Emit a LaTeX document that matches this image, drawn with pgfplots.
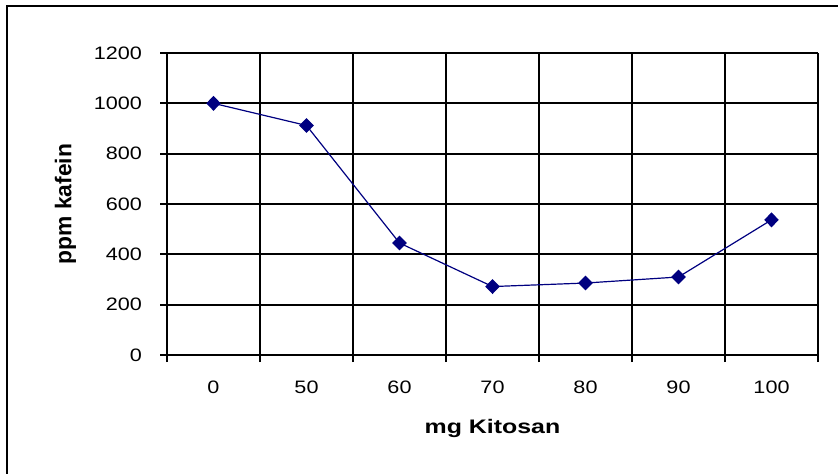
\documentclass[border=0pt]{standalone}
\usepackage{pgfplots}
\pgfplotsset{compat=1.18}
\usepackage{fontspec}
\setmainfont{Liberation Sans}
\newfontfamily\tickfont{Liberation Sans}[FakeStretch=1.2]
\newfontfamily\xlabfont{Liberation Sans}[FakeStretch=1.27]
\definecolor{navy}{RGB}{0,0,128}
\begin{document}
\begin{tikzpicture}
\useasboundingbox (0pt,0pt) rectangle (419pt,236.5pt);
\draw[black,line width=1pt] (3.5pt,-10pt) -- (3.5pt,233.5pt) -- (430pt,233.5pt);
\begin{axis}[
  at={(83.5pt,59pt)}, anchor=south west,
  scale only axis, width=325.5pt, height=151pt,
  xmin=-0.5, xmax=6.5, ymin=0, ymax=1200,
  xtick={0,...,6},
  xticklabels={0,50,60,70,80,90,100},
  minor xtick={-0.5,0.5,...,6.5},
  ytick={0,200,...,1200},
  major x tick style={draw=none},
  tick align=outside,
  minor tick length=3.5pt, major tick length=3.5pt,
  tick style={black, line width=0.9pt},
  xminorgrids=true, ymajorgrids=true,
  grid style={black, line width=0.9pt},
  minor grid style={black, line width=0.9pt},
  axis line style={black, line width=0.9pt},
  separate axis lines,
  axis x line*=bottom, axis y line*=left,
  ticklabel style={font=\tickfont\fontsize{9}{10}\selectfont},
  xticklabel style={yshift=-6pt},
  yticklabel style={xshift=-5.5pt},
  /pgf/number format/assume math mode=true,
  /pgf/number format/1000 sep={},
  xlabel={mg Kitosan},
  ylabel={ppm kafein},
  xlabel style={font=\xlabfont\bfseries\fontsize{9.8}{11}\selectfont, yshift=-6pt},
  ylabel style={font=\bfseries\fontsize{11.4}{13}\selectfont, yshift=2pt},
  clip=false,
]
\addplot[navy, line width=0.6pt, mark=diamond*, mark size=3.3pt,
  mark options={fill=navy, draw=navy, xscale=1.3}]
  coordinates {(0,1000) (1,912) (2,445) (3,272) (4,286) (5,310) (6,537)};
\end{axis}
\end{tikzpicture}
\end{document}
